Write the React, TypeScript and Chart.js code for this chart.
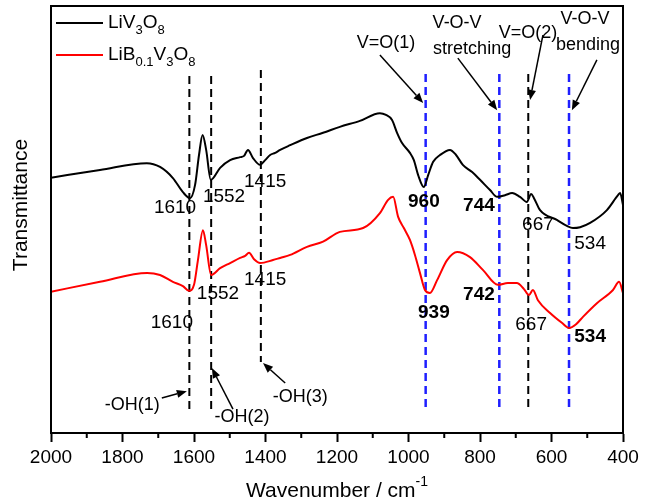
import React, { useEffect, useRef } from "react";
import { Chart, registerables } from "chart.js";
Chart.register(...registerables);

const FONT = "'Liberation Sans', Arial, Helvetica, sans-serif";

// LiV3O8 spectrum (wavenumber cm-1, transmittance a.u.)
const wnLiV3O8 = [2000,1863,1732,1695,1659,1631,1611,1597,1586,1576,1566,1553,1527,1499,1471,1460,1449,1435,1415,1401,1387,1373,1359,1331,1284,1239,1192,1136,1080,1063,1046,1032,1018,996,985,973,957,945,931,912,884,867,848,822,800,772,752,730,710,688,669,657,649,632,585,557,540,520,492,445,414,408,400];
const tLiV3O8 = [59.8,61.6,63.2,62.3,59.7,56.4,55.0,58.1,65.1,69.8,66.3,59.3,62.1,63.9,64.6,64.9,66.3,64.4,62.8,63.9,65.1,65.6,66.3,67.4,69.1,70.3,71.7,73.1,74.9,74.5,73.3,70.3,67.9,65.6,63.9,60.4,57.6,60.4,63.5,65.1,66.3,65.1,62.8,61.1,59.3,56.9,55.3,55.7,56.2,55.3,54.1,56.0,55.0,52.2,49.9,48.5,48.0,48.2,49.2,52.2,55.7,56.2,53.4];

// LiB0.1V3O8 spectrum
const wnLiB = [2000,1863,1731,1695,1659,1631,1614,1600,1589,1575,1566,1552,1527,1499,1471,1457,1446,1432,1415,1379,1359,1331,1284,1239,1192,1127,1080,1057,1043,1029,1013,996,982,968,954,940,920,892,864,828,792,750,722,697,677,663,652,638,604,571,551,531,512,473,428,411,400];
const tLiB = [33.1,35.4,37.5,37.0,35.4,34.4,33.3,34.7,40.5,47.5,44.0,37.0,38.6,39.8,41.0,41.5,42.2,40.7,39.8,40.5,41.0,41.7,43.6,44.8,47.1,48.0,51.5,54.6,55.3,50.6,48.0,45.2,41.7,37.5,33.5,32.8,35.8,40.5,42.4,41.2,38.2,34.7,35.1,35.1,33.7,32.3,33.5,31.1,28.1,25.8,24.6,25.5,27.2,30.4,33.5,35.4,32.8];

const xMin = 400;
const xMax = 2000;
const majorStep = 200;
const minorStep = 100;

// vertical dashed reference lines: wavenumber, top, bottom, colour
const refLineWn = [1613, 1552, 1413, 952, 746, 665, 551];
const refLineTop = [83.6, 83.6, 85.0, 84.1, 84.1, 84.1, 84.1];
const refLineBottom = [4.9, 5.2, 16.6, 5.4, 5.4, 5.4, 5.4];
const refLineColor = ["#000", "#000", "#000", "#1f1fff", "#1f1fff", "#000", "#1f1fff"];

// peak labels
const peakText = ["1610", "1552", "1415", "1552", "1610", "1415", "960", "744", "667", "534", "939", "742", "667", "534"];
const peakWn = [1653, 1516, 1401, 1533, 1662, 1401, 957, 803, 638, 492, 929, 803, 657, 492];
const peakVal = [52.7, 55.3, 58.8, 32.6, 25.8, 35.8, 54.1, 53.2, 48.7, 44.3, 28.1, 32.3, 25.3, 22.5];
const peakBold = [false, false, false, false, false, false, true, true, false, false, true, true, false, true];

// band assignment texts
const bandText = ["V=O(1)", "V-O-V", "stretching", "V=O(2)", "V-O-V", "bending", "-OH(1)", "-OH(2)", "-OH(3)"];
const bandWn = [1063, 864, 822, 666, 506, 498, 1773, 1466, 1303];
const bandVal = [91.3, 96.0, 89.9, 93.7, 97.0, 90.9, 6.6, 3.7, 8.4];

// arrows: from (wn, val) to (wn, val)
const arrowFromWn = [1080, 862, 624, 473, 1690, 1491, 1345];
const arrowFromVal = [88.5, 87.8, 93.2, 87.4, 8.2, 5.6, 11.7];
const arrowToWn = [959, 752, 660, 543, 1620, 1550, 1407];
const arrowToVal = [77.3, 75.6, 78.0, 75.6, 9.8, 15.2, 16.4];

type Part = { t: string; sub?: boolean; sup?: boolean };

function drawRich(ctx: CanvasRenderingContext2D, parts: Part[], x: number, y: number, size: number, align: "left" | "center") {
  const small = Math.round(size * 0.68);
  const widths = parts.map((p) => {
    ctx.font = `${p.sub || p.sup ? small : size}px ${FONT}`;
    return ctx.measureText(p.t).width;
  });
  const total = widths.reduce((a, b) => a + b, 0);
  let cx = align === "center" ? x - total / 2 : x;
  ctx.textAlign = "left";
  ctx.textBaseline = "middle";
  parts.forEach((p, i) => {
    ctx.font = `${p.sub || p.sup ? small : size}px ${FONT}`;
    const dy = p.sub ? size * 0.38 : p.sup ? -size * 0.42 : 0;
    ctx.fillText(p.t, cx, y + dy);
    cx += widths[i];
  });
}

const annotPlugin = {
  id: "annot",
  beforeDatasetsDraw(chart: any) {
    const { ctx, scales } = chart;
    const x = scales.x;
    const y = scales.y;
    ctx.save();
    refLineWn.forEach((wn, i) => {
      const px = x.getPixelForValue(wn);
      ctx.strokeStyle = refLineColor[i];
      ctx.lineWidth = refLineColor[i] === "#000" ? 2 : 2.5;
      ctx.setLineDash([8, 5]);
      ctx.beginPath();
      ctx.moveTo(px, y.getPixelForValue(refLineTop[i]));
      ctx.lineTo(px, y.getPixelForValue(refLineBottom[i]));
      ctx.stroke();
    });
    ctx.restore();
  },
  afterDraw(chart: any) {
    const { ctx, chartArea, scales } = chart;
    const x = scales.x;
    const y = scales.y;
    ctx.save();
    // frame
    ctx.strokeStyle = "#000";
    ctx.lineWidth = 2;
    ctx.setLineDash([]);
    ctx.strokeRect(chartArea.left, chartArea.top, chartArea.right - chartArea.left, chartArea.bottom - chartArea.top);
    // minor ticks
    for (let v = xMin; v <= xMax; v += minorStep) {
      if (v % majorStep === 0) continue;
      const px = x.getPixelForValue(v);
      ctx.beginPath();
      ctx.moveTo(px, chartArea.bottom);
      ctx.lineTo(px, chartArea.bottom + 5);
      ctx.stroke();
    }
    // peak labels
    ctx.fillStyle = "#000";
    ctx.textAlign = "center";
    ctx.textBaseline = "middle";
    peakText.forEach((t, i) => {
      ctx.font = `${peakBold[i] ? "bold " : ""}19px ${FONT}`;
      ctx.fillText(t, x.getPixelForValue(peakWn[i]), y.getPixelForValue(peakVal[i]));
    });
    // band texts
    ctx.font = `18px ${FONT}`;
    bandText.forEach((t, i) => {
      ctx.fillText(t, x.getPixelForValue(bandWn[i]), y.getPixelForValue(bandVal[i]));
    });
    // arrows
    ctx.lineWidth = 1.5;
    arrowFromWn.forEach((_, i) => {
      const x0 = x.getPixelForValue(arrowFromWn[i]);
      const y0 = y.getPixelForValue(arrowFromVal[i]);
      const x1 = x.getPixelForValue(arrowToWn[i]);
      const y1 = y.getPixelForValue(arrowToVal[i]);
      const ang = Math.atan2(y1 - y0, x1 - x0);
      const L = 10, W = 4;
      const bx = x1 - L * Math.cos(ang);
      const by = y1 - L * Math.sin(ang);
      ctx.beginPath();
      ctx.moveTo(x0, y0);
      ctx.lineTo(bx, by);
      ctx.stroke();
      ctx.beginPath();
      ctx.moveTo(x1, y1);
      ctx.lineTo(bx + W * Math.sin(ang), by - W * Math.cos(ang));
      ctx.lineTo(bx - W * Math.sin(ang), by + W * Math.cos(ang));
      ctx.closePath();
      ctx.fill();
    });
    // legend
    const lx = chartArea.left + 5;
    ctx.lineWidth = 2;
    ctx.strokeStyle = "#000";
    ctx.beginPath();
    ctx.moveTo(lx, chartArea.top + 17);
    ctx.lineTo(lx + 47, chartArea.top + 17);
    ctx.stroke();
    drawRich(ctx, [{ t: "LiV" }, { t: "3", sub: true }, { t: "O" }, { t: "8", sub: true }], lx + 52, chartArea.top + 17, 19, "left");
    ctx.strokeStyle = "#ff0000";
    ctx.beginPath();
    ctx.moveTo(lx, chartArea.top + 49);
    ctx.lineTo(lx + 47, chartArea.top + 49);
    ctx.stroke();
    drawRich(ctx, [{ t: "LiB" }, { t: "0.1", sub: true }, { t: "V" }, { t: "3", sub: true }, { t: "O" }, { t: "8", sub: true }], lx + 52, chartArea.top + 49, 19, "left");
    // axis titles
    ctx.fillStyle = "#000";
    drawRich(ctx, [{ t: "Wavenumber / cm" }, { t: "-1", sup: true }], (chartArea.left + chartArea.right) / 2 + 0, chartArea.bottom + 58, 21, "center");
    ctx.save();
    ctx.translate(21, chartArea.top + 199);
    ctx.rotate(-Math.PI / 2);
    ctx.font = `21px ${FONT}`;
    ctx.textAlign = "center";
    ctx.textBaseline = "middle";
    ctx.fillText("Transmittance", 0, 0);
    ctx.restore();
    ctx.restore();
  },
};

export default function App() {
  const ref = useRef<HTMLCanvasElement>(null);
  useEffect(() => {
    document.body.style.margin = "0";
    const c = ref.current!;
    const chart = new Chart(c, {
      type: "line",
      data: {
        datasets: [
          {
            label: "LiV3O8",
            data: wnLiV3O8.map((w, i) => ({ x: w, y: tLiV3O8[i] })),
            borderColor: "#000",
            borderWidth: 2,
            pointRadius: 0,
            cubicInterpolationMode: "monotone",
            fill: false,
          },
          {
            label: "LiB0.1V3O8",
            data: wnLiB.map((w, i) => ({ x: w, y: tLiB[i] })),
            borderColor: "#ff0000",
            borderWidth: 2,
            pointRadius: 0,
            cubicInterpolationMode: "monotone",
            fill: false,
          },
        ],
      },
      options: {
        responsive: false,
        animation: false,
        layout: { padding: { left: 51, right: 28, top: 6, bottom: 31 } },
        plugins: { legend: { display: false }, tooltip: { enabled: false } },
        scales: {
          x: {
            type: "linear",
            reverse: true,
            min: xMin,
            max: xMax,
            afterFit(scale: any) {
              scale.height = 40;
            },
            border: { display: true, color: "#000", width: 2 },
            grid: {
              drawOnChartArea: false,
              drawTicks: true,
              tickLength: 9,
              tickWidth: 2,
              tickColor: (ctx: any) => (ctx.tick && ctx.tick.value % majorStep === 0 ? "#000" : "rgba(0,0,0,0)"),
            },
            ticks: {
              stepSize: minorStep,
              autoSkip: false,
              maxRotation: 0,
              padding: 4,
              color: "#000",
              font: { family: FONT, size: 19 },
              callback: (v: any) => (Number(v) % majorStep === 0 ? String(v) : ""),
            },
          },
          y: {
            display: false,
            min: 0,
            max: 100,
          },
        },
      },
      plugins: [annotPlugin],
    });
    return () => chart.destroy();
  }, []);
  return (
    <div style={{ width: 651, height: 504 }}>
      <canvas ref={ref} width={651} height={504} />
    </div>
  );
}
